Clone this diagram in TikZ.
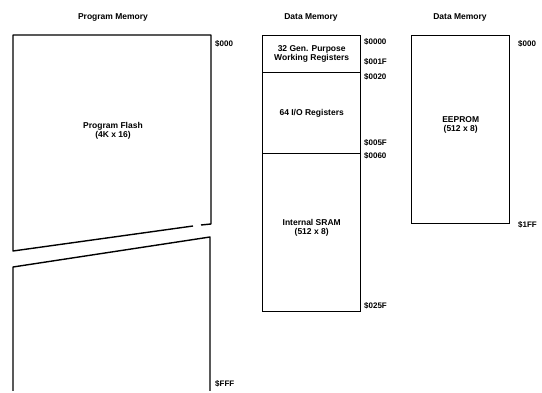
\documentclass[tikz,border=0pt]{standalone}
\usepackage{fontspec}
\setmainfont{Liberation Sans}
\begin{document}
\begin{tikzpicture}[x=1pt,y=-1pt,
  every node/.style={font=\fontsize{8.5}{9}\selectfont\bfseries, inner sep=0pt},
  blk/.style={draw, line width=1.4pt, minimum width=98pt, anchor=north west, align=center},
  addr/.style={anchor=west, font=\fontsize{8}{9}\selectfont\bfseries},
  ttl/.style={font=\fontsize{8.5}{10}\selectfont\bfseries}]
\useasboundingbox (0,0) rectangle (542,393);
% titles
\node[ttl] (t1) at (113,17) {Program Memory};
\node[ttl] (t2) at (311,17) {Data Memory};
\node[ttl] (t3) at (460,17) {Data Memory};
% program memory (broken box)
\draw[line width=1.4pt, line join=round] (193,226) -- (13,251) -- (13,35) -- (211,35) -- (211,224) -- (201,225);
\draw[line width=1.4pt, line join=round] (13,391) -- (13,267) -- (210,237) -- (210,391);
\node[align=center] (pf) at (113,131) {Program Flash\\(4K x 16)};
\node[addr] (p0) at (215,44) {\$000};
\node[addr] (p1) at (215,384) {\$FFF};
% data memory
\node[blk, minimum height=37pt] (gpr) at (262,35) {32 Gen. Purpose\\Working Registers};
\node[blk, minimum height=81pt] (io) at (262,72) {64 I/O Registers};
\node[blk, minimum height=158pt, text depth=12pt] (sram) at (262,153) {Internal SRAM\\(512 x 8)};
\node[addr] (d0) at (364,42) {\$0000};
\node[addr] (d1) at (364,62) {\$001F};
\node[addr] (d2) at (364,77) {\$0020};
\node[addr] (d3) at (364,143) {\$005F};
\node[addr] (d4) at (364,156) {\$0060};
\node[addr] (d5) at (364,306) {\$025F};
% eeprom
\node[blk, minimum height=188pt, text depth=12pt] (ee) at (411,35) {EEPROM\\(512 x 8)};
\node[addr] (e0) at (518,44) {\$000};
\node[addr] (e1) at (518,225) {\$1FF};
\end{tikzpicture}
\end{document}
